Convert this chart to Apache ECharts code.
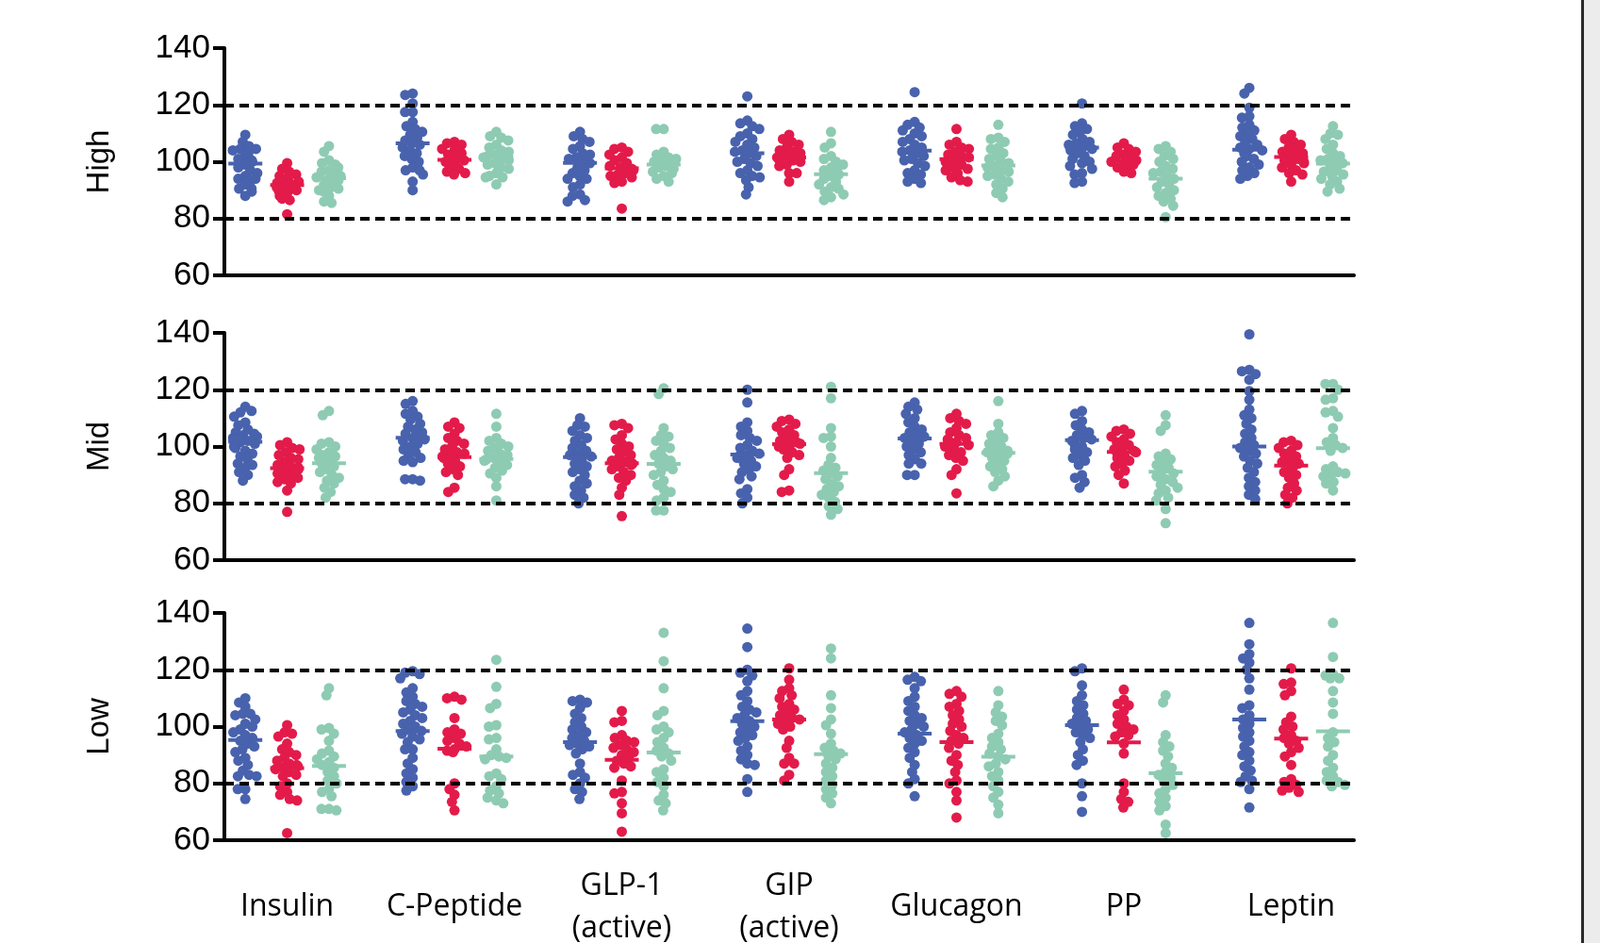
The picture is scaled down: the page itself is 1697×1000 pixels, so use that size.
<!DOCTYPE html>
<html><head><meta charset="utf-8">
<script src="https://cdn.jsdelivr.net/npm/echarts@6/dist/echarts.min.js"></script>
<style>html,body{margin:0;padding:0;background:#fff}#c{width:1697px;height:1000px}</style>
</head><body><div id="c"></div>
<script>
const groups = ['Insulin','C-Peptide','GLP-1\n(active)','GIP\n(active)','Glucagon','PP','Leptin'];
const panels = ['High','Mid','Low'];
const yTicks = [60, 80, 100, 120, 140];
const refLines = [80, 120];

const highBlue = [
 [109.5,107,105.5,104.5,104.5,104,103,102,101,100.5,100,99.5,99,98,97,96,95,94,94,93.5,92,90.5,90.5,89.5,88],
 [124,123.5,120.5,117.5,117.5,114,112.5,111.5,110.5,109.5,108.5,107.5,106.5,106,105,104,103,102,101,100,98,97,97,95.5,93,90],
 [110.5,109,108,107,105.5,104.5,103,102.5,101.5,101,100.5,100,99.5,99,98,97,96,95,94,94,92,91,88.5,88,86.5,86],
 [123,114.5,113.5,112.5,111.5,110,109,108,107,106,105,104,103.5,103,102,101,100,99.5,98.5,97,96,95,94.5,93.5,91,88.5],
 [124.5,114,113,112,111,110,109,108,107,106,105,104,103.5,103,102,101,100.5,99.5,98.5,97,96,95.5,94,93,92.5],
 [120.5,113.5,112.5,111.5,110.5,109.5,108,107,106.5,106,105,104.5,104,103,102,101,100,99.5,98.5,97.5,96,95.5,93,92.5],
 [126,124,119,116,115.5,113,112,111,110,109,108,107,106,105,104.5,104,103,102,101,100,99,98,97,96,95,94]
];
const highBlueMean = [99.3,106.5,99.6,103,103.9,105,104.2];
const highRed = [
 [99.5,97.5,96.5,95.5,95,94,93.5,93,92.5,92,91.5,91,90.5,90,89.5,89,88,88,87,86.5,81.5],
 [107,106.5,106,105,104.5,104,103,102.5,102,101.5,101,100.5,100,99.5,99,98.5,97.5,96.5,96,95.5],
 [105,104.5,103.5,102.5,101.5,100.5,99.5,98.5,98,97.5,97,96.5,96,95.5,95,94.5,93,92.5,83.5],
 [109.5,108,107,106,105,104,103.5,103,102,101.5,101,100.5,100,99,98.5,96,96,93],
 [111.5,107,106,105,104.5,103.5,102.5,102,101.5,101,100.5,100,99.5,99,98,97.5,97,96,94.5,93.5,93],
 [106.5,105,104.5,103.5,102.5,102,101.5,101,100.5,100,99.5,99,98.5,98,97.5,96.5,96],
 [109.5,108,107,106,105,104,103.5,103,102.5,102,101.5,101,100.5,100,99.5,99,98,97,96,95.5,93]
];
const highRedMean = [91.8,100.7,97.7,101.5,100.9,100.3,101.7];
const highTeal = [
 [105.5,103.5,100.5,99.5,99,98,97,96.5,96,95,94.5,94,93.5,93,92,91,90.5,90,89.5,88,86,85.5],
 [110.5,109,108.5,107.5,106,105,104,103.5,102.5,102,101.5,101,100.5,99.5,99,98,97.5,97,96,95,94.5,94.5,92],
 [111.5,111.5,103.5,102.5,101.5,101,100.5,100,99.5,99,98.5,98,97.5,96.5,96,95,94,93],
 [110.5,106.5,105,102,101,100,99,98,97,96.5,96,95.5,95,94,93,92,91,90.5,89.5,88.5,87.5,86.5],
 [113,108.5,108,107,105,104.5,103,102,101,100,99.5,98.5,98,97,96.5,95.5,95,94,93,92,90.5,89,87.5],
 [105.5,104.5,103.5,102,101,100,98.5,97.5,96.5,96,95,94,93,92,91,90,89,88,87,86,84.5,80.5],
 [112.5,110,109.5,108,106,104.5,103,102,101,100.5,100,99.5,99,98,97,96.5,95.5,95,94,93,92,90.5,89.5]
];
const highTealMean = [94.2,101.8,99,95.6,98.7,94,99.3];

const midBlue = [
 [114,112.5,112,110.5,108.5,107.5,106,105,104.5,104,103.5,103,102.5,102,101.5,101,100,99.5,98.5,97.5,96.5,95.5,94,93.5,92.5,91,90,88],
 [116,115,112.5,111.5,110.5,109.5,108,107,106,105,104.5,104,103,102.5,102,101,100,99,98,97,96,95,94.5,88.5,88.5,88],
 [110,107.5,107,105.5,104,103,102,100.5,99.5,98.5,97.5,97,96.5,96,95,94,93,92,91,90,88,87,86,84.5,83,82,80],
 [120,115.5,108.5,107,105.5,104,103,102,100.5,99.5,98.5,97.5,97,96.5,96,95,94,93,92,91,89.5,88.5,85,83.5,82,80],
 [115.5,114,113,111.5,110,108.5,107,106,105,104,103.5,103,102.5,102,101,100,99,98,97,95.5,94,94,90,90],
 [112.5,111.5,109,107.5,106,105,104,103,102.5,102,101,100,99,98,97,96,95,93.5,90,89,87.5,85.5],
 [139.5,127,126.5,125.5,123.5,119.5,116.5,113,111,110,108,106,104.5,103,101.5,100.5,99.5,98.5,97.5,96.5,95,94,92.5,91,89,87.5,86,84.5,83,81.5]
];
const midBlueMean = [101.7,103.1,96.3,97.2,102.8,102.2,100];
const midRed = [
 [101.5,100.5,99.5,99,98,97,96,95.5,94.5,93.5,93,92.5,92,91.5,90.5,90,89,88.5,87.5,87,84.5,77],
 [108.5,107,106.5,104.5,103,102,101,100,99,98,97.5,97,96.5,96,95,94,93,92,91,90,85.5,84],
 [108,107.5,106.5,104,102.5,101,100,99,98,97,96,95,94.5,94,93.5,93,92,91,90,89,88,85.5,83,75.5],
 [109.5,109,108,107,106,105,104,103,102,101.5,101,100.5,100,99,98,97,96,92,90,84.5,84],
 [111.5,110,109,108,106.5,105,104,103,102.5,102,101.5,101,100.5,100,99,98,97,96,95,92,90,83.5],
 [106,105.5,104.5,103.5,102.5,101.5,100.5,99.5,99,98.5,98,97.5,97,96,95,94,93,91.5,90,87],
 [102,101.5,100.5,99.5,98.5,97.5,96.5,95.5,94.5,94,93.5,93,92,91,90,89,87,85.5,84.5,83,82,80]
];
const midRedMean = [92.4,96.3,94.1,100.8,100.9,98.1,93.3];
const midTeal = [
 [112.5,111,101.5,101,100,99,98,97,96.5,96,95,94,93,92,91,90,89,88,87,85.5,84,82],
 [111.5,107,103,102,101,100,99.5,98.5,97.5,97,96,95.5,95,94.5,93.5,92.5,91.5,90.5,89,86,81],
 [120.5,118.5,106.5,104,103.5,102,101,99.5,98.5,97,96,95,94,93,92,91,90,88,86.5,85,84,82,81,77.5,77.5],
 [121,117,106.5,103.5,103,100,96,93.5,92.5,91.5,90.5,89.5,88.5,87,86,85,84,83,82,80.5,79,78,76],
 [116,108,105,104,103,102,101,100,99,98.5,98,97.5,97,96,95,94,93,92,91,89.5,88,86],
 [111,107.5,105.5,97.5,96.5,95.5,94.5,93.5,92.5,91.5,90.5,89.5,88.5,87.5,86.5,85.5,84.5,83.5,82,81,78,73],
 [122,122,120,117,116.5,112.5,112,110.5,106.5,103,101.5,100.5,99.5,98.5,93,92,91,90.5,90,89.5,87.5,87,84.5]
];
const midTealMean = [94.1,95.6,93.9,90.6,97.8,91.1,99.4];

const lowBlue = [
 [110,108.5,107,104.5,104.5,104,102.5,101,100,99,98,97,96,95,94,93,92,91,89,88,86.5,84.5,83,82.5,82.5,78,78,74.5],
 [119.5,119,118.5,117,113.5,112,110.5,109,108,107,106,105,104,103,102,101,100,99,98.5,97.5,96.5,95.5,94.5,92,92,89,87,85,83.5,82,80.5,79,77.5],
 [109.5,109,108.5,108,106.5,104.5,103,101.5,100,99,98,97,96,95,94,93.5,93,92,90.5,87,84,83,82,80,78,77,74.5],
 [134.5,128,120,119,118,116,112.5,111,109,107,106,105,104,103,102,101,100,99,98,97,96,95,93,91.5,90,88.5,87,86.5,81.5,77],
 [117.5,116.5,116,113.5,110.5,109,107,105.5,104,103,102,101,100,99,98,97,96,95,94,92.5,91,89,86.5,84,81.5,80,75.5],
 [120.5,119.5,114.5,111,109,107.5,106,104.5,103,102,101,100,99,98,97,96,94.5,92,90,88,86.5,80,75.5,70],
 [136.5,129,125.5,124,122.5,120,117,113,107.5,106.5,104,102.5,101,99.5,98,96.5,95,93,91,90,88,86,84.5,82.5,81,80.5,78,71.5]
];
const lowBlueMean = [95.3,98.4,94.5,101.9,97.5,100.5,102.5];
const lowRed = [
 [100.5,98,97.5,96.5,94,92,91,90,89,88,87,86.5,86,85.5,85,84,83,82.5,80,79,77,76,74.5,74,62.5],
 [110.5,110,109.5,103,99,98,97.5,97,96,95,94,93,92,91.5,91,80,78,76,73.5,70.5],
 [105.5,102,101.5,97,96,95,94.5,93.5,92.5,92,91,90,89,88,87,86,85.5,81,77,76.5,73,69.5,63],
 [120.5,116.5,113.5,112.5,111,110,108,107,106,105,104,103,102.5,102,101,100,99,95,92.5,89,87,87,83,81],
 [112.5,111.5,110.5,108,107,105.5,104,102.5,101,100,98.5,97,96,95,94,92.5,90,88,86.5,84,81,80,77,74,68],
 [113,109.5,108,107.5,105.5,104,102.5,101,100,99,98,97,96.5,94,90.5,80,77,74.5,73.5,71.5],
 [120.5,115.5,115,112.5,111,103.5,101.5,100,99,97,96,95,94,92.5,91,89.5,86.5,81.5,80.5,79.5,78.5,77.5,77]
];
const lowRedMean = [85.4,92.2,88.3,102.5,94.5,94.4,95.8];
const lowTeal = [
 [113.5,111,99.5,99,97.5,95,91.5,90.5,89.5,88.5,87.5,86.5,85.5,84,82.5,81,80,78,77,75.5,71,71,70.5],
 [123.5,114,108,106.5,100.5,100,96,95.5,92,90,89.5,89,88.5,83.5,82.5,81.5,79,77.5,76.5,75,74,73],
 [133,123,113.5,105.5,104,100,99,98,96,94.5,92.5,91.5,90.5,89.5,88,85,84,82,80.5,79,76,74,73,70.5],
 [127.5,124,111,106.5,102.5,100.5,97.5,94,92.5,91.5,90.5,89.5,88.5,87,85.5,84,82.5,81,79.5,78,76.5,75,73],
 [112.5,107.5,105,103.5,102,100.5,97.5,96,94.5,93,92,90.5,89.5,88.5,87,86,84,82.5,81,79,77,75,72.5,69.5],
 [111,108.5,97,94.5,93,91.5,89.5,87,85.5,84,83,82,81,79.5,78,76.5,75,73.5,72,70.5,65.5,62.5],
 [136.5,124.5,118.5,118,117,117,112.5,108.5,104.5,98,96,94.5,93,90,88,85.5,84,82.5,81,80.5,79.5,79]
];
const lowTealMean = [86.1,89.5,90.9,90.3,89.4,83.6,98.3];

const colors = ['#4862ad', '#e31b4a', '#8ecbb3'];
const panelData = [
  [highBlue, highRed, highTeal], [midBlue, midRed, midTeal], [lowBlue, lowRed, lowTeal]
];
const panelMeans = [
  [highBlueMean, highRedMean, highTealMean], [midBlueMean, midRedMean, midTealMean], [lowBlueMean, lowRedMean, lowTealMean]
];

const nSlots = groups.length * 4 - 1;
const slotLabels = [];
for (let i = 0; i < nSlots; i++) slotLabels.push(i % 4 === 1 ? groups[(i - 1) / 4] : '');

const gridTops = [51, 353, 650];
const gridH = 241;
const grids = [], xAxes = [], yAxes = [], series = [];
panels.forEach((pname, p) => {
  grids.push({ left: 238, width: 1198, top: gridTops[p], height: gridH, outerBoundsMode: 'none', containLabel: false });
  xAxes.push({
    type: 'category', gridIndex: p, data: slotLabels, boundaryGap: true,
    jitter: 28, jitterOverlap: false, jitterMargin: -3,
    axisLine: { lineStyle: { color: '#000', width: 4 } },
    axisTick: { show: false },
    axisLabel: {
      show: p === 2, interval: 0, color: '#000', fontFamily: 'Open Sans', fontSize: 32,
      lineHeight: 45, margin: 71, verticalAlign: 'middle', align: 'center'
    },
    splitLine: { show: false }
  });
  yAxes.push({
    type: 'value', gridIndex: p, min: yTicks[0], max: yTicks[yTicks.length - 1], interval: 20,
    name: pname, nameLocation: 'middle', nameGap: 116, nameRotate: 90,
    nameTextStyle: { fontFamily: 'Liberation Sans', fontSize: 33, color: '#000' },
    axisLine: { show: true, lineStyle: { color: '#000', width: 4 } },
    axisTick: { show: true, inside: false, length: 12, lineStyle: { color: '#000', width: 4 } },
    axisLabel: { color: '#000', fontFamily: 'Liberation Sans', fontSize: 35, margin: 15 },
    splitLine: { show: false }
  });
  panelData[p].forEach((groupsVals, c) => {
    const pts = [];
    groupsVals.forEach((vals, g) => vals.forEach(v => pts.push([g * 4 + c, v])));
    const s = {
      type: 'scatter', xAxisIndex: p, yAxisIndex: p, data: pts,
      symbol: 'circle', symbolSize: 11, itemStyle: { color: colors[c], opacity: 1 },
      emphasis: { disabled: true }, z: 3
    };
    if (c === 0) {
      s.markLine = {
        silent: true, symbol: 'none', label: { show: false }, animation: false,
        lineStyle: { color: '#000', width: 4, type: [10, 6] },
        data: refLines.map(v => ({ yAxis: v }))
      };
    }
    series.push(s);
    const means = panelMeans[p][c].map((m, g) => [g * 4 + c, m]);
    series.push({
      type: 'custom', xAxisIndex: p, yAxisIndex: p, data: means, z: 5, silent: true,
      renderItem: (params, api) => {
        const pt = api.coord([api.value(0), api.value(1)]);
        return { type: 'line', shape: { x1: pt[0] - 18, y1: pt[1], x2: pt[0] + 18, y2: pt[1] },
                 style: { stroke: colors[c], lineWidth: 4 } };
      }
    });
  });
});

const chart = echarts.init(document.getElementById('c'), null, { renderer: 'canvas' });
chart.setOption({
  animation: false,
  backgroundColor: '#fff',
  grid: grids, xAxis: xAxes, yAxis: yAxes, series: series,
  graphic: [
    { type: 'rect', shape: { x: 1680, y: 0, width: 17, height: 1000 }, style: { fill: '#ececec' }, silent: true },
    { type: 'rect', shape: { x: 1677, y: 0, width: 3, height: 1000 }, style: { fill: '#2a2a2a' }, silent: true }
  ]
});
</script></body></html>
